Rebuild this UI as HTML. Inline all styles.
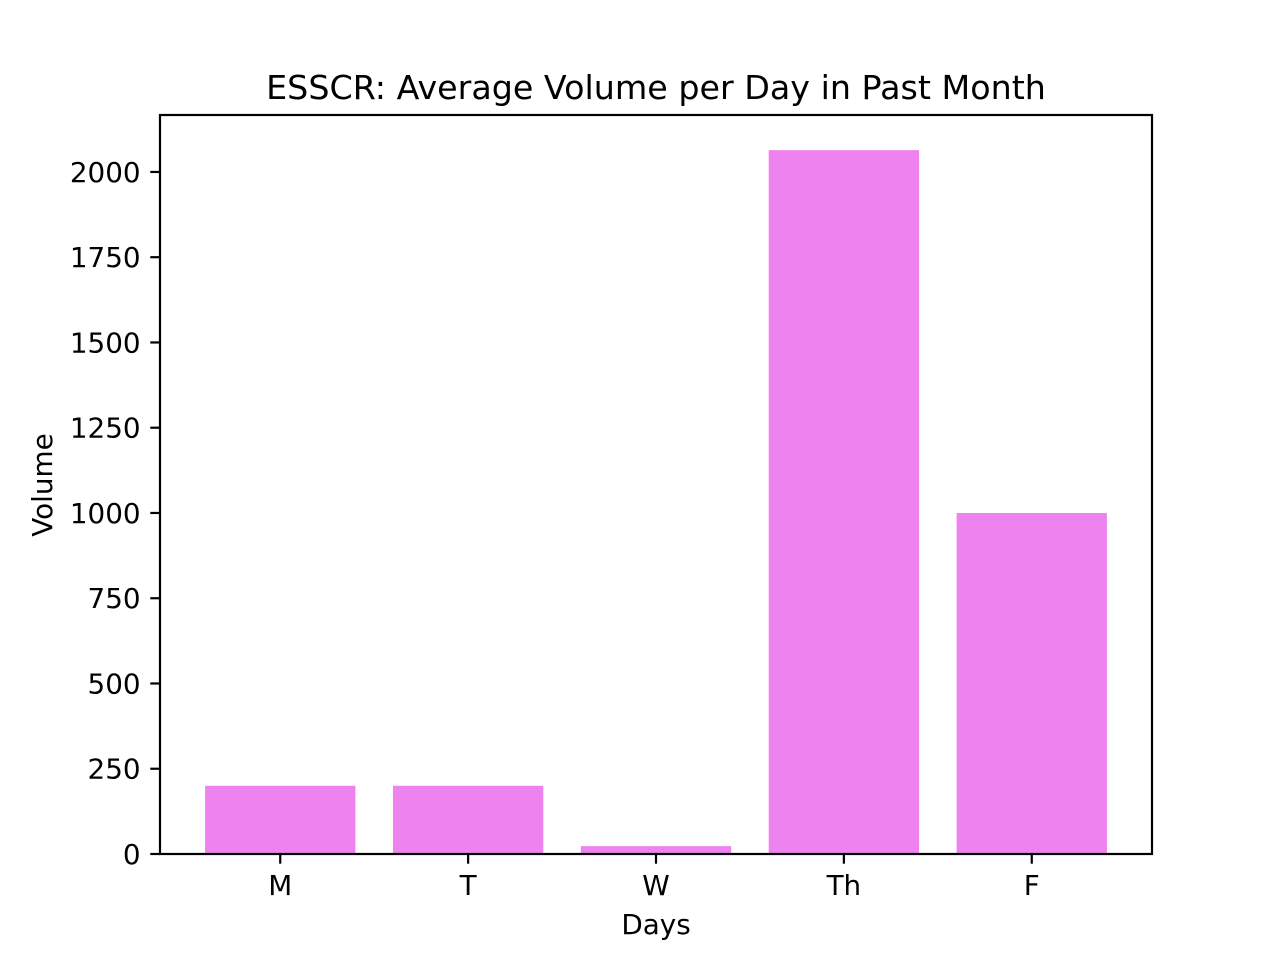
<!DOCTYPE html>
<html>
<head>
<meta charset="utf-8">
<style>
html,body{margin:0;padding:0;background:#fff;}
svg{display:block;font-family:"DejaVu Sans","Liberation Sans",sans-serif;}
</style>
</head>
<body>
<svg id="chart" width="1280" height="960" viewBox="0 0 1280 960" xmlns="http://www.w3.org/2000/svg">
<rect width="1280" height="960" fill="#fff"/>
<g id="bars"></g>
<g id="yticks"></g>
<g id="xticks"></g>
<rect x="160" y="115" width="992" height="739" fill="none" stroke="#000" stroke-width="2.2"/>
<text x="656" y="99" font-size="33.3" text-anchor="middle">ESSCR: Average Volume per Day in Past Month</text>
<text x="656" y="934" font-size="27.8" text-anchor="middle">Days</text>
<text transform="translate(52,485) rotate(-90)" font-size="27.8" text-anchor="middle">Volume</text>
</svg>
<script>
const categories = ["M","T","W","Th","F"];
const volumes = [200, 200, 23, 2064, 1000];
const yTickValues = [0,250,500,750,1000,1250,1500,1750,2000];

const L=160,R=1152,T=115,B=854;
const xMin=-0.64,xMax=4.64,yMin=0,yMax=2167;
const xs=v=>L+(v-xMin)/(xMax-xMin)*(R-L);
const ys=v=>B-(v-yMin)/(yMax-yMin)*(B-T);
const NS="http://www.w3.org/2000/svg";
function mk(tag,attrs,parent){const e=document.createElementNS(NS,tag);for(const k in attrs)e.setAttribute(k,attrs[k]);parent.appendChild(e);return e;}

const bars=document.getElementById('bars');
categories.forEach((c,i)=>{
  const x0=xs(i-0.4),x1=xs(i+0.4),y=ys(volumes[i]);
  const r=mk('rect',{x:x0,y:y,width:x1-x0,height:ys(0)-y,fill:'#ee82ee'},bars);
  
  
});
const yg=document.getElementById('yticks');
yTickValues.forEach(v=>{
  const y=ys(v);
  const l=mk('line',{x1:L-9.7,x2:L,y1:y,y2:y,stroke:'#000','stroke-width':2.2},yg);
  
  
  const t=mk('text',{x:L-19.4,y:y+10,'font-size':27.8,'text-anchor':'end'},yg);
  t.textContent=v;
  
  
});
const xg=document.getElementById('xticks');
categories.forEach((c,i)=>{
  const x=xs(i);
  const l=mk('line',{x1:x,x2:x,y1:B,y2:B+9.7,stroke:'#000','stroke-width':2.2},xg);
  
  
  const t=mk('text',{x:x,y:B+41,'font-size':27.8,'text-anchor':'middle'},xg);
  t.textContent=c;
  
  
});
</script>
</body>
</html>
